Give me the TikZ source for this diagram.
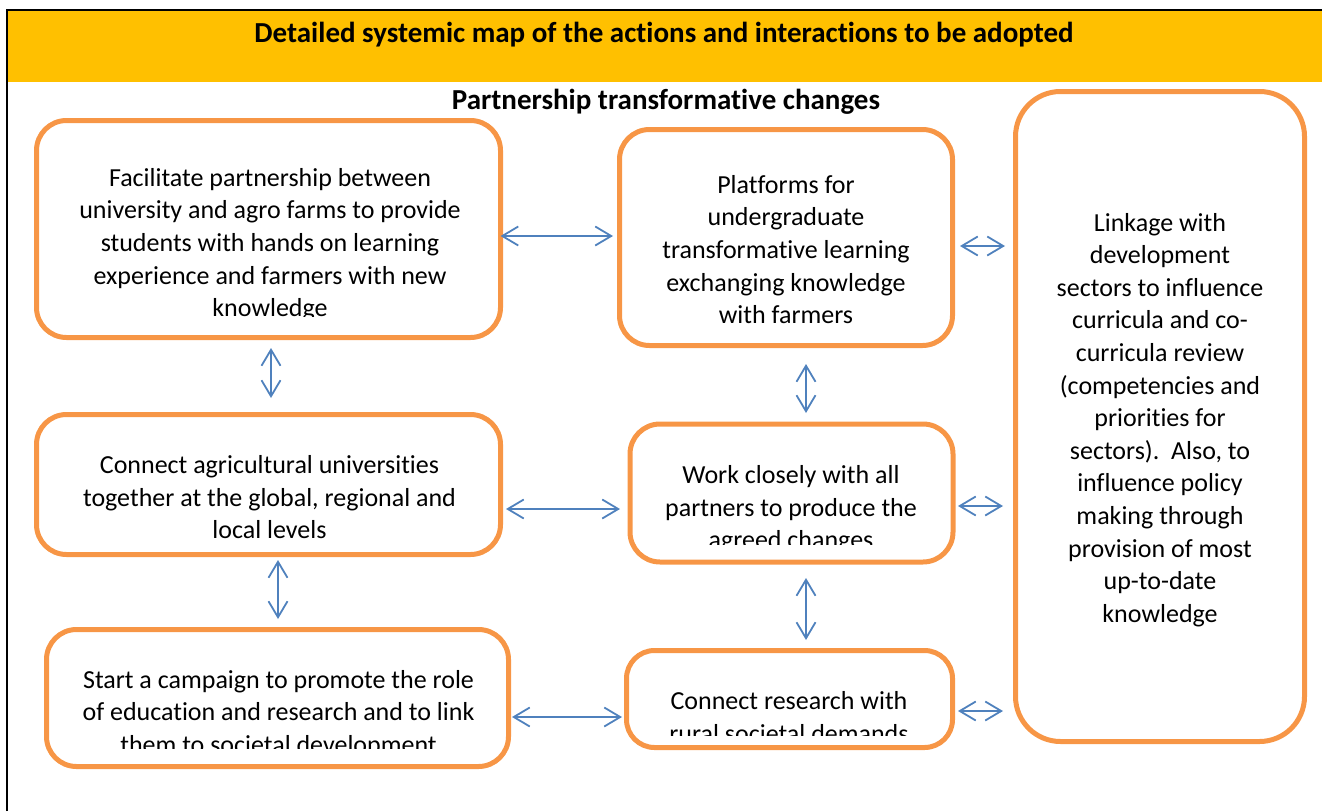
\documentclass[tikz,border=0pt]{standalone}
\usepackage{fontspec}
\setmainfont{Carlito}[Ligatures=NoCommon]
\usetikzlibrary{arrows.meta}
\definecolor{boxorange}{HTML}{F79646}
\definecolor{arrblue}{HTML}{4F81BD}
\definecolor{bandyellow}{HTML}{FFC000}
\begin{document}
\begin{tikzpicture}[x=1pt,y=-1pt,
  box/.style={draw=boxorange, line width=5pt, rounded corners=30pt, outer sep=0pt, inner sep=0pt},
  txt/.style={align=center, inner sep=0pt, anchor=north, font=\fontsize{26}{32.6}\selectfont},
  arr/.style={draw=arrblue, line width=1.8pt, {Straight Barb[length=16pt,width=19pt]}-{Straight Barb[length=16pt,width=19pt]}},
]
\useasboundingbox (0,0) rectangle (1322,811);
% frame and title band
\fill[bandyellow] (7,10) rectangle (1322,81.5);
\draw[line width=2pt] (6.5,811) -- (6.5,10) -- (1322,10);
\node[font=\bfseries\fontsize{29}{34}\selectfont, inner sep=0pt, anchor=base] (title) at (664,42) {Detailed systemic map of the actions and interactions to be adopted};
\node[font=\bfseries\fontsize{29}{34}\selectfont, inner sep=0pt, anchor=base] (sub) at (666,109.5) {Partnership transformative changes};

% boxes
\node[box, minimum width=464pt, minimum height=217pt] (A) at (268.5,229) {};
\node[box, minimum width=333pt, minimum height=216pt] (B) at (786,237.5) {};
\node[box, rounded corners=45pt, minimum width=289pt, minimum height=650pt] (C) at (1160,416.5) {};
\node[box, minimum width=464pt, minimum height=140pt] (D) at (268.5,484.5) {};
\node[box, minimum width=323pt, minimum height=138pt] (E) at (791.5,493) {};
\node[box, minimum width=462pt, minimum height=137pt] (F) at (277.5,698) {};
\node[box, rounded corners=28pt, minimum width=326pt, minimum height=97pt] (G) at (789.5,699) {};

% texts
\begin{scope}
\clip (40,124) rectangle (497,316.5);
\node[txt] (tA) at (270,163.2) {\strut Facilitate partnership between\\university and agro farms to provide\\students with hands on learning\\experience and farmers with new\\knowledge};
\end{scope}
\node[txt] (tB) at (786,170.2) {\strut Platforms for\\undergraduate\\transformative learning\\exchanging knowledge\\with farmers};
\node[txt] (tC) at (1160,208) {\strut Linkage with\\development\\sectors to influence\\curricula and co-\\curricula review\\(competencies and\\priorities for\\sectors).\ \ Also, to\\influence policy\\making through\\provision of most\\up-to-date\\knowledge};
\node[txt] (tD) at (269.5,450.7) {\strut Connect agricultural universities\\together at the global, regional and\\local levels};
\begin{scope}
\clip (633,427) rectangle (950,544);
\node[txt] (tE) at (791,460.6) {\strut Work closely with all\\partners to produce the\\agreed changes};
\end{scope}
\begin{scope}
\clip (50,633) rectangle (505,748.5);
\node[txt] (tF) at (278.5,665.2) {\strut Start a campaign to promote the role\\of education and research and to link\\them to societal development};
\end{scope}
\begin{scope}
\clip (630,654) rectangle (949,735.5);
\node[txt] (tG) at (789,686.7) {\strut Connect research with\\rural societal demands};
\end{scope}

% connectors
\draw[arr, shorten >=6.5pt] ([yshift=-7pt]A.east) -- ([yshift=-7pt]A.east -| B.west);
\draw[arr, shorten <=7.5pt, shorten >=10.5pt] ([yshift=-8.5pt]B.east) -- ([yshift=-8.5pt]B.east -| C.west);
\draw[arr, shorten <=10.5pt, shorten >=16.5pt] ([xshift=2.5pt]A.south) -- ([xshift=2.5pt]A.south |- D.north);
\draw[arr, shorten <=18.5pt, shorten >=11pt] ([xshift=20pt]B.south) -- ([xshift=20pt]B.south |- E.north);
\draw[arr, shorten <=5.5pt, shorten >=10pt] ([yshift=-24.5pt]D.east) -- ([yshift=-24.5pt]D.east -| E.west);
\draw[arr, shorten <=5pt, shorten >=12.5pt] ([yshift=-13pt]E.east) -- ([yshift=-13pt]E.east -| C.west);
\draw[arr, shorten <=5.5pt, shorten >=10.5pt] ([xshift=9.5pt]D.south) -- ([xshift=9.5pt]D.south |- F.north);
\draw[arr, shorten <=16pt, shorten >=10.5pt] ([xshift=14.5pt]E.south) -- ([xshift=14.5pt]E.south |- G.north);
\draw[arr, shorten <=3.5pt, shorten >=4.5pt] ([yshift=-19pt]F.east) -- ([yshift=-19pt]F.east -| G.west);
\draw[arr, shorten <=5.5pt, shorten >=12.5pt] ([yshift=-12pt]G.east) -- ([yshift=-12pt]G.east -| C.west);
\end{tikzpicture}
\end{document}
